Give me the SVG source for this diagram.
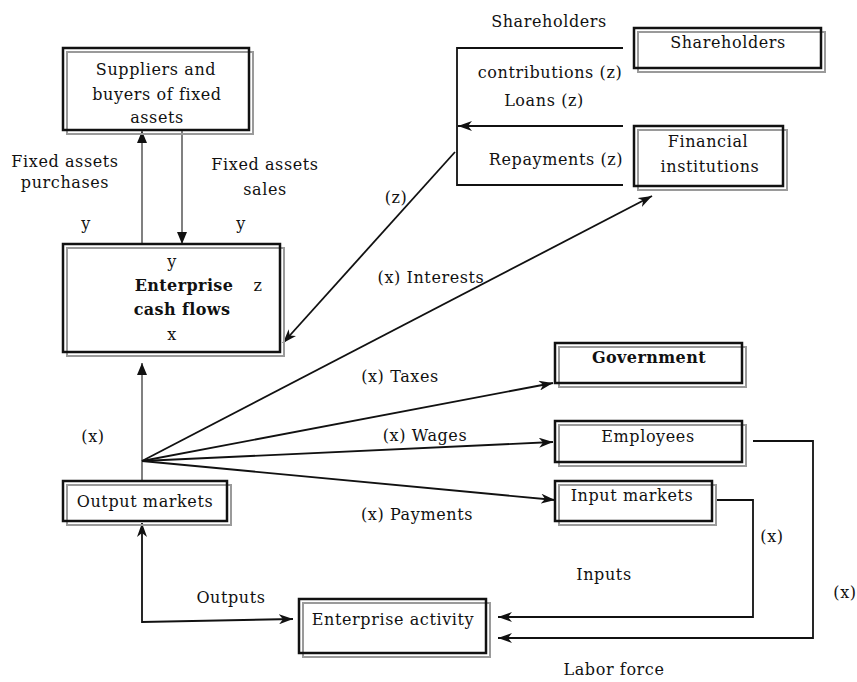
<svg xmlns="http://www.w3.org/2000/svg" width="857" height="682" viewBox="0 0 857 682">
<style>
text{font-family:"DejaVu Serif","Liberation Serif",serif;font-size:16px;letter-spacing:0.6px;fill:#111;text-anchor:middle}
.b{font-weight:bold;letter-spacing:0.4px}
.sh{fill:none;stroke:#9a9a9a;stroke-width:2}
.bx{fill:none;stroke:#111;stroke-width:2.5}
.ln{fill:none;stroke:#111;stroke-width:1.8}
.gl{fill:none;stroke:#808080;stroke-width:2}
</style>
<defs>
<marker id="tri" markerUnits="userSpaceOnUse" markerWidth="12" markerHeight="12" refX="12" refY="5" orient="auto-start-reverse" viewBox="0 0 12 10">
<path d="M0,0 L12,5 L0,10 Z" fill="#111"/>
</marker>
<marker id="barb" markerUnits="userSpaceOnUse" markerWidth="14" markerHeight="10" refX="14" refY="5" orient="auto-start-reverse" viewBox="0 0 14 10">
<path d="M0,0 L14,5 L0,10 L4,5 Z" fill="#111"/>
</marker>
</defs>
<rect width="857" height="682" fill="#fff"/>

<g id="connectors">
<line class="gl" x1="142" y1="244" x2="142" y2="131" marker-end="url(#tri)"/>
<line class="gl" x1="182" y1="131" x2="182" y2="244" marker-end="url(#tri)"/>
<line class="gl" x1="142" y1="481" x2="142" y2="363" marker-end="url(#tri)"/>
<polyline class="ln" points="623,48 457,48 457,185 623,185"/>
<line class="ln" x1="623" y1="126" x2="458" y2="126" marker-end="url(#barb)"/>
<line class="ln" x1="455" y1="152" x2="283" y2="343" marker-end="url(#barb)"/>
<line class="ln" x1="142" y1="461" x2="652" y2="196" marker-end="url(#barb)"/>
<line class="ln" x1="142" y1="461" x2="553" y2="383" marker-end="url(#barb)"/>
<line class="ln" x1="142" y1="461" x2="553" y2="442" marker-end="url(#barb)"/>
<line class="ln" x1="142" y1="461" x2="555" y2="500" marker-end="url(#barb)"/>
<polyline class="ln" points="753,441 813,441 813,638 498,638" marker-end="url(#barb)"/>
<polyline class="ln" points="715,500 753,500 753,617 498,617" marker-end="url(#barb)"/>
<polyline class="ln" points="142,523 142,622 293,619" marker-start="url(#barb)" marker-end="url(#barb)"/>
</g>

<g id="labels">
<text x="65" y="167">Fixed assets</text>
<text x="65" y="188">purchases</text>
<text x="265" y="170">Fixed assets</text>
<text x="265" y="195">sales</text>
<text x="86" y="229">y</text>
<text x="241" y="229">y</text>
<text x="93" y="442">(x)</text>
<text x="396" y="203">(z)</text>
<text x="431" y="283">(x) Interests</text>
<text x="400" y="382">(x) Taxes</text>
<text x="425" y="441">(x) Wages</text>
<text x="417" y="520">(x) Payments</text>
<text x="549" y="27">Shareholders</text>
<text x="550" y="78">contributions (z)</text>
<text x="544" y="106">Loans (z)</text>
<text x="556" y="165">Repayments (z)</text>
<text x="772" y="542">(x)</text>
<text x="845" y="598">(x)</text>
<text x="604" y="580">Inputs</text>
<text x="614" y="675">Labor force</text>
<text x="231" y="603">Outputs</text>
</g>

<g id="suppliers">
<rect class="sh" x="67" y="52" width="186" height="82"/>
<rect class="bx" x="63" y="48" width="186" height="82"/>
<text x="156" y="75">Suppliers and</text>
<text x="157" y="100">buyers of fixed</text>
<text x="157" y="123">assets</text>
</g>

<g id="cashflows">
<rect class="sh" x="67" y="248" width="217" height="108"/>
<rect class="bx" x="63" y="244" width="217" height="108"/>
<text x="172" y="267">y</text>
<text class="b" x="184" y="291">Enterprise</text>
<text x="258" y="291">z</text>
<text class="b" x="182" y="315">cash flows</text>
<text x="172" y="340">x</text>
</g>

<g id="shareholders">
<rect class="sh" x="638" y="32" width="187" height="40"/>
<rect class="bx" x="634" y="28" width="187" height="40"/>
<text x="728" y="48">Shareholders</text>
</g>

<g id="financial">
<rect class="sh" x="638" y="130" width="149" height="60"/>
<rect class="bx" x="634" y="126" width="149" height="60"/>
<text x="708" y="147">Financial</text>
<text x="710" y="172">institutions</text>
</g>

<g id="government">
<rect class="sh" x="559" y="347" width="187" height="40"/>
<rect class="bx" x="555" y="343" width="187" height="40"/>
<text class="b" x="649" y="363">Government</text>
</g>

<g id="employees">
<rect class="sh" x="559" y="425" width="187" height="41"/>
<rect class="bx" x="555" y="421" width="187" height="41"/>
<text x="648" y="442">Employees</text>
</g>

<g id="inputmarkets">
<rect class="sh" x="559" y="485" width="157" height="40"/>
<rect class="bx" x="555" y="481" width="157" height="40"/>
<text x="632" y="501">Input markets</text>
</g>

<g id="outputmarkets">
<rect class="sh" x="67" y="485" width="164" height="40"/>
<rect class="bx" x="63" y="481" width="164" height="40"/>
<text x="145" y="507">Output markets</text>
</g>

<g id="activity">
<rect class="sh" x="303" y="603" width="187" height="54"/>
<rect class="bx" x="299" y="599" width="187" height="54"/>
<text x="393" y="625">Enterprise activity</text>
</g>
</svg>
